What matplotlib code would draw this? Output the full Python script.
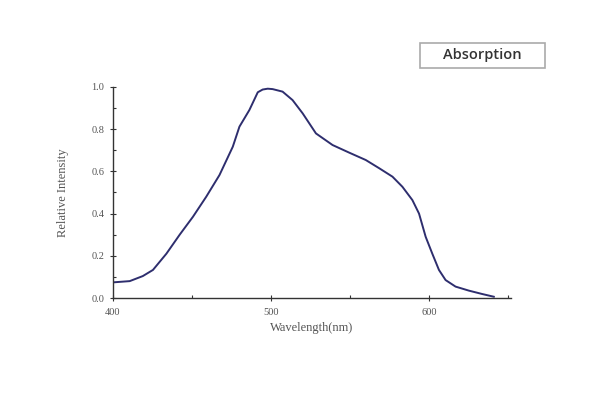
import matplotlib
matplotlib.use('Agg')
import matplotlib.pyplot as plt
from matplotlib.patches import Rectangle
from matplotlib.ticker import MultipleLocator, FormatStrFormatter

# Spectre d'absorption
wavelength = [400, 410.7, 419, 425.4, 433.9, 442.3, 450.7, 459.1, 467.5, 475.9,
              480.1, 486.4, 491.7, 494.8, 498, 501.1, 507.4, 513.7, 520.1, 528.5, 539,
              549.5, 560, 568.5, 576.9, 583.2, 589.5, 593.7, 597.9, 602.1, 606.3,
              610.5, 616.8, 625.2, 633.6, 641]
intensity = [0.074, 0.08, 0.104, 0.133, 0.21, 0.30, 0.385, 0.48, 0.583, 0.717,
             0.812, 0.891, 0.975, 0.988, 0.992, 0.99, 0.978, 0.938, 0.875, 0.78, 0.725,
             0.689, 0.654, 0.615, 0.575, 0.527, 0.464, 0.40, 0.29, 0.21, 0.133,
             0.085, 0.054, 0.035, 0.019, 0.006]

LINE = '#2e2e6e'
SERIF = ['Liberation Serif', 'DejaVu Serif']

fig = plt.figure(figsize=(6, 4), dpi=100)
ax = fig.add_axes([0.188, 0.255, 0.664, 0.5275])
ax.plot(wavelength, intensity, color=LINE, lw=1.4)

ax.set_xlim(400, 652)
ax.set_ylim(0, 1.0)
ax.spines['top'].set_visible(False)
ax.spines['right'].set_visible(False)
for s in ('left', 'bottom'):
    ax.spines[s].set_color('#333333')
    ax.spines[s].set_linewidth(1.0)

ax.xaxis.set_major_locator(MultipleLocator(100))
ax.xaxis.set_minor_locator(MultipleLocator(50))
ax.yaxis.set_major_locator(MultipleLocator(0.2))
ax.yaxis.set_minor_locator(MultipleLocator(0.1))
ax.yaxis.set_major_formatter(FormatStrFormatter('%.1f'))
ax.tick_params(which='major', direction='inout', length=5, width=0.8,
               colors='#333333', labelsize=7.5, labelcolor='#555555')
ax.tick_params(axis='x', which='major', pad=5)
ax.tick_params(which='minor', direction='in', length=2.5, width=0.8, colors='#333333')
for lab in ax.get_xticklabels() + ax.get_yticklabels():
    lab.set_family(SERIF)

ax.set_xlabel('Wavelength(nm)', family=SERIF, fontsize=9, color='#555555', labelpad=3)
ax.set_ylabel('Relative Intensity', family=SERIF, fontsize=9, color='#555555', labelpad=16)

# boîte de légende
fig.patches.append(Rectangle((0.700, 0.830), 0.208, 0.0625, transform=fig.transFigure,
                             fc='white', ec='#aaaaaa', lw=1.2))
fig.text(0.804, 0.862, 'Absorption', ha='center', va='center', fontsize=10.5,
         family='Open Sans', weight='semibold', color='#333333')

fig.savefig('out.png', dpi=100)
